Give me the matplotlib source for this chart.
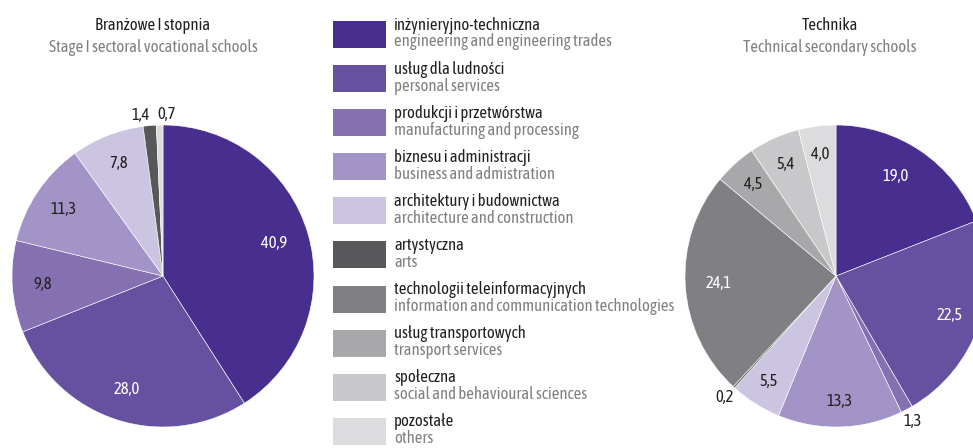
import numpy as np
import matplotlib.pyplot as plt
from matplotlib.patches import Rectangle

plt.rcParams['font.family'] = ['Asap Condensed', 'DejaVu Sans']

categories_pl = ["inżynieryjno-techniczna", "usług dla ludności", "produkcji i przetwórstwa",
                 "biznesu i administracji", "architektury i budownictwa", "artystyczna",
                 "technologii teleinformacyjnych", "usług transportowych", "społeczna", "pozostałe"]
categories_en = ["engineering and engineering trades", "personal services",
                 "manufacturing and processing", "business and admistration",
                 "architecture and construction", "arts", "information and communication technologies",
                 "transport services", "social and behavioural sciences", "others"]
colors = ["#482e8f", "#6651a1", "#8571b1", "#a394c7", "#cbc5e1",
          "#58585b", "#808084", "#a8a8ab", "#c8c8ca", "#dcdcde"]

# Branżowe I stopnia (no ICT / transport / social)
left_vals = [40.9, 28.0, 9.8, 11.3, 7.8, 1.4, 0, 0, 0, 0.7]
# Technika
right_vals = [19.0, 22.5, 1.3, 13.3, 5.5, 0.2, 24.1, 4.5, 5.4, 4.0]

W, H = 973, 448
fig = plt.figure(figsize=(W / 100, H / 100), dpi=100)

dark = "#231f20"
grey = "#808080"
FS = 12


def draw_pie(cx, cy, r, vals, label_style, title_pl, title_en, tx):
    ax = fig.add_axes([(cx - r) / W, (H - cy - r) / H, 2 * r / W, 2 * r / H])
    idx = [i for i, v in enumerate(vals) if v > 0]
    wedges, _ = ax.pie([vals[i] for i in idx], colors=[colors[i] for i in idx],
                       startangle=90, counterclock=False, radius=1,
                       wedgeprops=dict(edgecolor="white", linewidth=0.4))
    ax.set_xlim(-1, 1)
    ax.set_ylim(-1, 1)
    ax.set_aspect("auto")
    ax.axis("off")
    for w, i in zip(wedges, idx):
        rr, dx, col = label_style.get(i, (0.8, 0, dark))
        ang = np.deg2rad((w.theta1 + w.theta2) / 2)
        x = rr * np.cos(ang) + dx / r
        y = rr * np.sin(ang)
        txt = f"{vals[i]:.1f}".replace(".", ",")
        ax.text(x, y, txt, ha="center", va="center", fontsize=FS, color=col)
    fig.text(tx / W, 1 - 25 / H, title_pl, ha="center", va="center", fontsize=FS, color=dark)
    fig.text(tx / W, 1 - 48 / H, title_en, ha="center", va="center", fontsize=FS, color=grey)


left_style = {0: (0.77, 0, "white"), 1: (0.79, 0, "white"), 2: (0.8, 0, dark),
              3: (0.79, 0, dark), 4: (0.8, 0, dark), 5: (1.07, -8, dark), 9: (1.07, 7, dark)}
right_style = {0: (0.8, -8, "white"), 1: (0.8, 0, "white"), 2: (1.09, 0, dark),
               3: (0.83, 0, dark), 4: (0.83, 0, dark), 5: (1.09, 0, dark),
               6: (0.78, 0, "white"), 7: (0.82, 0, dark), 8: (0.81, 0, dark), 9: (0.81, 0, dark)}

draw_pie(163, 276, 151, left_vals, left_style,
         "Branżowe I stopnia", "Stage I sectoral vocational schools", 153)
draw_pie(836, 276, 151, right_vals, right_style,
         "Technika", "Technical secondary schools", 830)

# legend
lax = fig.add_axes([0, 0, 1, 1])
lax.set_xlim(0, W)
lax.set_ylim(H, 0)
lax.axis("off")
for i, (pl, en) in enumerate(zip(categories_pl, categories_en)):
    top = 21 + i * 44.1
    lax.add_patch(Rectangle((333, top), 53, 27, facecolor=colors[i], edgecolor="none"))
    lax.text(394, top + 4, pl, ha="left", va="center", fontsize=FS, color=dark)
    lax.text(394, top + 21, en, ha="left", va="center", fontsize=FS, color=grey)

fig.savefig("out.png", dpi=100)
